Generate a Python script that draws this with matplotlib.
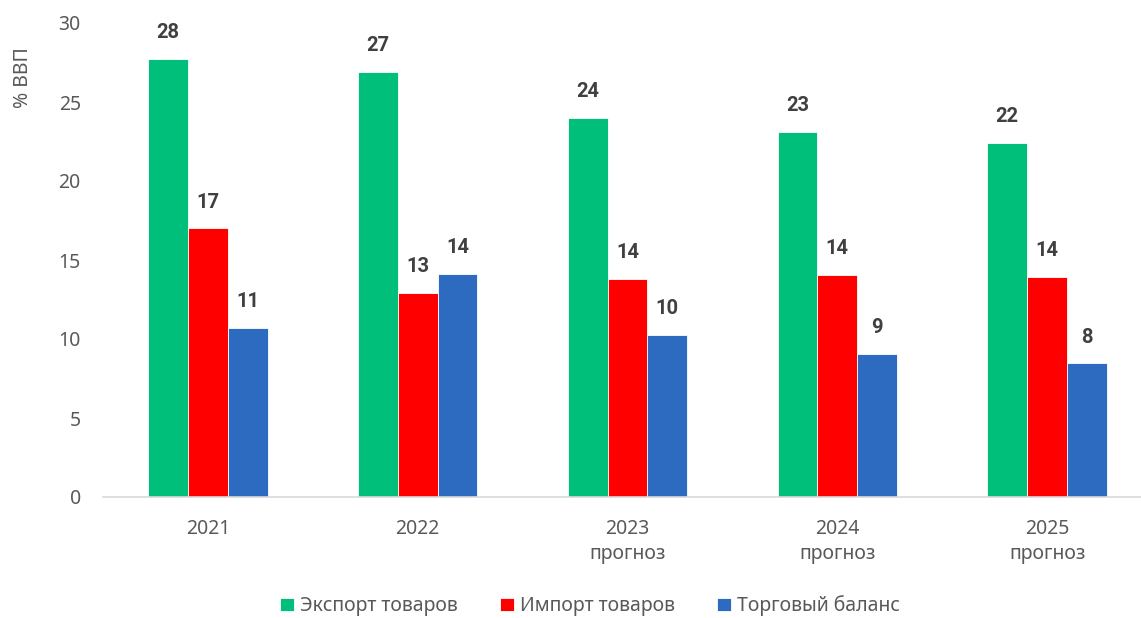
import matplotlib
matplotlib.use("Agg")
import matplotlib.pyplot as plt
import numpy as np

plt.rcParams['font.family'] = ['Noto Sans', 'DejaVu Sans']

years = ["2021", "2022", "2023\nпрогноз", "2024\nпрогноз", "2025\nпрогноз"]
export_goods = [27.7, 26.9, 24.0, 23.1, 22.4]
import_goods = [17.0, 12.9, 13.8, 14.05, 13.95]
trade_balance = [10.7, 14.1, 10.25, 9.05, 8.45]
series_names = ["Экспорт товаров", "Импорт товаров", "Торговый баланс"]
colors = ["#00BF7A", "#FF0000", "#2D6BC0"]

W, H = 1141, 618
fig = plt.figure(figsize=(W / 100, H / 100), dpi=100)
left, right, bottom, top = 103, 1152, 497, 23
ax = fig.add_axes([left / W, (H - bottom) / H, (right - left) / W, (bottom - top) / H])

x = np.arange(len(years))
width = 0.19
for i, (vals, name, c) in enumerate(zip([export_goods, import_goods, trade_balance], series_names, colors)):
    pos = x + (i - 1) * width
    ax.bar(pos, vals, width, color=c, label=name, edgecolor="white", linewidth=0.6)
    for xb, v in zip(pos, vals):
        ax.annotate(f"{v:.0f}", (xb, v), xytext=(0, 19), textcoords="offset points",
                    ha="center", va="center", fontsize=14.5, fontweight="bold",
                    family=["Roboto", "DejaVu Sans"], color="#404040")

ax.set_xlim(-0.5, 4.5)
ax.set_ylim(0, 30)
ax.set_yticks(range(0, 31, 5))
ax.set_xticks(x)
ax.set_xticklabels(years, fontsize=14, color="#595959", linespacing=1.35)
ax.tick_params(axis="y", length=0, pad=16, labelsize=14, labelcolor="#595959")
ax.tick_params(axis="x", length=0, pad=16)
for s in ["top", "right", "left"]:
    ax.spines[s].set_visible(False)
ax.spines["bottom"].set_color("#D9D9D9")
ax.spines["bottom"].set_linewidth(1.2)

fig.text(23 / W, 1 - 78 / H, "% ВВП", rotation=90, ha="center", va="center",
         fontsize=14, color="#595959")

handles, labels = ax.get_legend_handles_labels()
leg = fig.legend(handles, labels, loc="center", bbox_to_anchor=(590 / W, 1 - 606 / H),
                 ncol=3, frameon=False, fontsize=14, handlelength=0.7, handleheight=0.7,
                 handletextpad=0.3, columnspacing=2.2)
for t in leg.get_texts():
    t.set_color("#595959")

fig.savefig("out.png", dpi=100)
